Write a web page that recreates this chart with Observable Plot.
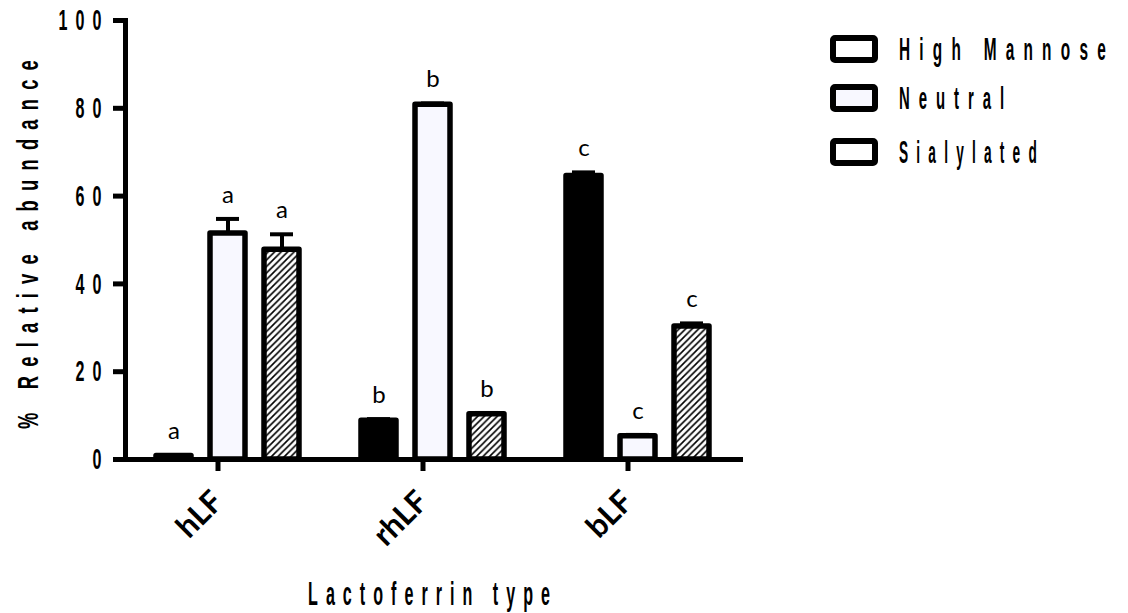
<!DOCTYPE html>
<html>
<head>
<meta charset="utf-8">
<script src="https://cdn.jsdelivr.net/npm/d3@7"></script>
<script src="https://cdn.jsdelivr.net/npm/@observablehq/plot@0.6"></script>
<style>
  body { margin: 0; background: #fff; }
  #wrap { position: relative; width: 1128px; height: 613px; overflow: hidden; }
  #legend { position: absolute; left: 820px; top: 20px; }
</style>
</head>
<body>
<div id="wrap"></div>
<script>
// ---- data ----
const groups = ["hLF", "rhLF", "bLF"];
const series = ["High Mannose", "Neutral", "Sialylated"];
const highMannose = [0.8, 8.8, 64.6];
const neutral = [51.5, 80.8, 5.3];
const sialylated = [47.8, 10.3, 30.3];
const highMannoseErr = [0.2, 0.4, 0.8];
const neutralErr = [3.3, 0.3, 0.3];
const sialylatedErr = [3.5, 0.3, 0.7];
const highMannoseLetters = ["a", "b", "c"];
const neutralLetters = ["a", "b", "c"];
const sialylatedLetters = ["a", "b", "c"];
const yTicks = [0, 20, 40, 60, 80, 100];
const fills = ["#000000", "#f8f8ff", "url(#hatch)"];
const legendFills = ["#ffffff", "#f8f8ff", "#ffffff"];
const yTitle = "% Relative abundance";
const xTitle = "Lactoferrin type";

const valuesBySeries = [highMannose, neutral, sialylated];
const errBySeries = [highMannoseErr, neutralErr, sialylatedErr];
const lettersBySeries = [highMannoseLetters, neutralLetters, sialylatedLetters];
const rows = [];
groups.forEach((g, gi) => {
  series.forEach((s, si) => {
    rows.push({
      group: g, series: s,
      value: valuesBySeries[si][gi],
      err: errBySeries[si][gi],
      letter: lettersBySeries[si][gi]
    });
  });
});
const topOf = d => d.value + d.err;

const narrowFont = "'Liberation Sans Narrow', 'Liberation Sans', 'DejaVu Sans Condensed', sans-serif";

const plot = Plot.plot({
  width: 1128,
  height: 613,
  marginLeft: 125,
  marginRight: 388,
  marginTop: 20,
  marginBottom: 154,
  style: { fontFamily: "Lato, 'Open Sans', sans-serif", color: "black", background: "white", overflow: "visible" },
  fx: { domain: groups, padding: 0 },
  x: { domain: series, paddingInner: 0.2727, paddingOuter: 0.5, axis: null },
  y: { domain: [0, 100], axis: null },
  color: { domain: series, range: fills },
  marks: [
    Plot.ruleX(rows, { fx: "group", x: "series", y1: "value", y2: topOf, stroke: "black", strokeWidth: 4 }),
    Plot.tickY(rows, { fx: "group", x: "series", y: topOf, stroke: "black", strokeWidth: 4, insetLeft: 8, insetRight: 8 }),
    Plot.barY(rows, {
      fx: "group", x: "series", y: "value", fill: "series",
      stroke: "black", strokeWidth: 5.5, strokeLinejoin: "round",
      insetLeft: 2, insetRight: 2
    }),
    Plot.text(rows, {
      fx: "group", x: "series", y: topOf, text: "letter",
      dy: -24, fontSize: 24, fontFamily: "Lato, 'Open Sans', sans-serif", fill: "black"
    }),
    Plot.frame({ anchor: "left", facet: "super", stroke: "black", strokeWidth: 5 }),
    Plot.frame({ anchor: "bottom", facet: "super", stroke: "black", strokeWidth: 5 }),
    Plot.axisY({
      ticks: yTicks, tickSize: 12, tickPadding: 4, strokeWidth: 5,
      fontSize: 30, label: yTitle, labelAnchor: "center", labelOffset: 108, labelArrow: false
    }),
    Plot.axisFx({
      anchor: "bottom",
      tickSize: 12, tickPadding: 25, tickRotate: -45, strokeWidth: 5,
      fontSize: 31, fontWeight: "bold", dx: -10,
      label: xTitle, labelAnchor: "center", labelOffset: 145, labelArrow: false
    })
  ]
});

// hatch pattern for the sialylated bars
const svg = d3.select(plot);
const defs = svg.insert("defs", ":first-child");
const P = 6.5;
const pat = defs.append("pattern")
  .attr("id", "hatch")
  .attr("patternUnits", "userSpaceOnUse")
  .attr("width", P).attr("height", P);
pat.append("rect").attr("width", P).attr("height", P).attr("fill", "white");
pat.append("path")
  .attr("d", `M-1,${P + 1} L${P + 1},-1 M-1,1 L1,-1 M${P - 1},${P + 1} L${P + 1},${P - 1}`)
  .attr("stroke", "black").attr("stroke-width", 1.6);

// condensed, letter-spaced typography for the y axis (textLength fit)
function squishLength(sel, fontSize, perChar, fixed) {
  sel.each(function () {
    const t = d3.select(this);
    const n = this.textContent.length;
    t.attr("font-family", narrowFont)
      .attr("font-size", fontSize)
      .attr("font-weight", "bold")
      .style("letter-spacing", "0.5em")
      .attr("lengthAdjust", "spacingAndGlyphs")
      .attr("textLength", fixed != null ? fixed : perChar * n);
  });
}
squishLength(svg.selectAll('g[aria-label="y-axis tick label"] text'), 30, 17);
squishLength(svg.selectAll('g[aria-label="y-axis label"] text'), 29, 0, 378);

document.getElementById("wrap").appendChild(plot);

// condensed typography by measured horizontal scaling (x-axis title, legend)
function squishScale(node, fontSize, spacing, target) {
  const t = d3.select(node);
  t.attr("font-family", narrowFont)
    .attr("font-size", fontSize)
    .attr("font-weight", "bold")
    .style("letter-spacing", spacing);
  const natural = node.getComputedTextLength();
  return natural > 0 ? target / natural : 1;
}
svg.selectAll('g[aria-label="fx-axis label"] text').each(function () {
  const t = d3.select(this);
  const tr = t.attr("transform") || "";
  const hasXY = t.attr("x") != null || t.attr("y") != null;
  if (hasXY) {
    squishLength(t, 34, 0, 250);
  } else {
    const s = squishScale(this, 34, "0.5em", 250);
    t.attr("transform", `${tr} scale(${s},1)`);
  }
});

// legend
const lg = d3.select("#wrap").append("svg")
  .attr("id", "legend")
  .attr("width", 300).attr("height", 170);
const rowY = [29, 78, 132];
const legendWidths = [216, 114, 146];
series.forEach((s, i) => {
  lg.append("rect")
    .attr("x", 13).attr("y", rowY[i] - 11)
    .attr("width", 42).attr("height", 22)
    .attr("fill", legendFills[i])
    .attr("stroke", "black").attr("stroke-width", 6)
    .attr("rx", 2);
  const txt = lg.append("text").text(s);
  const k = squishScale(txt.node(), 31, "0.6em", legendWidths[i]);
  txt.attr("transform", `translate(79,${rowY[i] + 11}) scale(${k},1)`);
});
</script>
</body>
</html>
